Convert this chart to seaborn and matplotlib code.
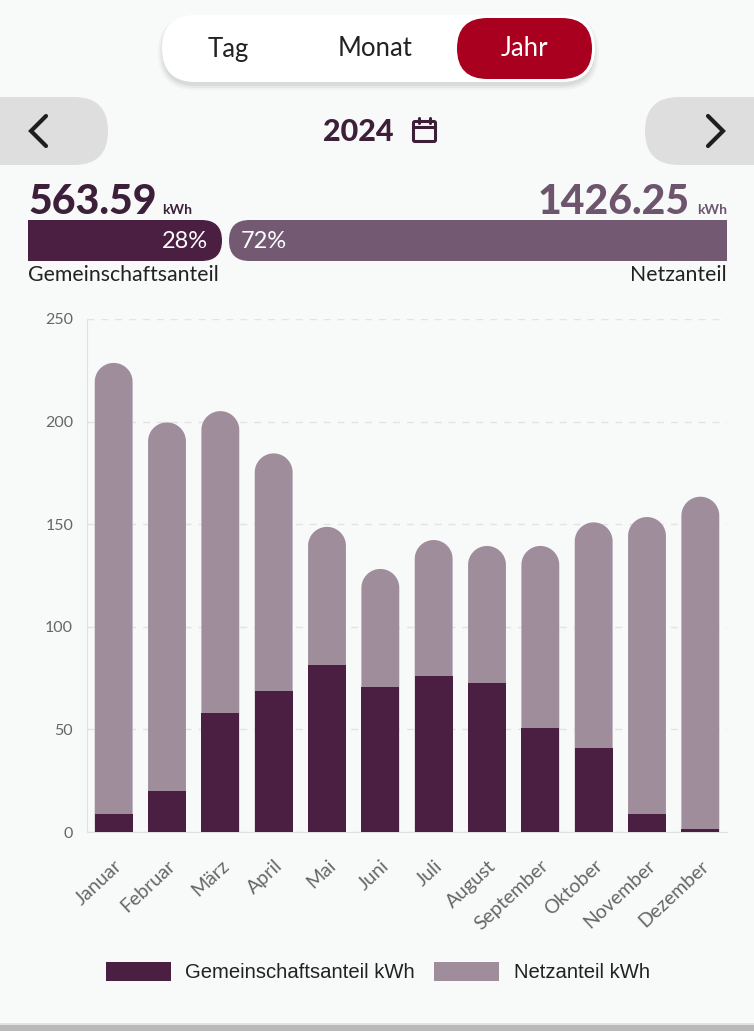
import numpy as np
import pandas as pd
import matplotlib
matplotlib.use("Agg")
import matplotlib.pyplot as plt
import seaborn as sns
from matplotlib.patches import FancyBboxPatch, PathPatch, Patch, Rectangle
from matplotlib.path import Path

# Daten (kWh pro Monat)
months = ["Januar", "Februar", "März", "April", "Mai", "Juni", "Juli",
          "August", "September", "Oktober", "November", "Dezember"]
gemeinschaft = [8.7, 20.2, 58.1, 68.5, 81.2, 70.9, 76.2, 72.6, 50.9, 41.0, 9.0, 1.4]
netz = [219.9, 179.4, 147.0, 116.0, 67.5, 57.3, 66.1, 66.8, 88.5, 109.9, 144.5, 162.0]
total_gem = "563.59"
total_netz = "1426.25"
share_gem = "28%"
share_netz = "72%"
y_ticks = [0, 50, 100, 150, 200, 250]
views = ["Tag", "Monat", "Jahr"]
year = "2024"

C_DARK = "#4a1f42"
C_LIGHT = "#a08d9c"
C_SHARE = "#735a72"
C_RED = "#a8001e"
C_BG = "#f8f9f9"

W, H = 754, 1031
sns.set_style("white")
plt.rcParams['font.family'] = ['Lato', 'DejaVu Sans']

fig = plt.figure(figsize=(W / 100, H / 100), dpi=100, facecolor=C_BG)

# Hintergrund / UI-Ebene in Pixelkoordinaten
bg = fig.add_axes([0, 0, 1, 1], zorder=0)
bg.set_xlim(0, W)
bg.set_ylim(H, 0)
bg.axis("off")

def pill(ax, x0, y0, x1, y1, color, r=None, **kw):
    r = (y1 - y0) / 2 if r is None else r
    p = FancyBboxPatch((x0 + r, y0 + r), (x1 - x0) - 2 * r, (y1 - y0) - 2 * r,
                       boxstyle=f"round,pad={r}", fc=color, ec="none", **kw)
    ax.add_patch(p)
    return p

# Umschalter Tag / Monat / Jahr
for i, a in enumerate([0.05, 0.04, 0.03]):
    pill(bg, 162 - i * 2, 15 - i + 3, 595 + i * 2, 83 + i * 2 + 3, "#000000", alpha=a)
pill(bg, 162, 15, 595, 82, "white")
pill(bg, 457, 18, 592, 79, C_RED)
for label, xc in zip(views, [228, 375, 524]):
    bg.text(xc, 49, label, ha="center", va="center", fontsize=18.5,
            color="white" if label == "Jahr" else "#222222")

# Navigation
pill(bg, -60, 97, 108, 165, "#dedede")
pill(bg, 645, 97, 820, 165, "#dedede")
bg.plot([46, 31, 46], [116, 131, 146], color="#1e1e1e", lw=3, solid_capstyle="round",
        solid_joinstyle="miter")
bg.plot([708, 723, 708], [116, 131, 146], color="#1e1e1e", lw=3, solid_capstyle="round",
        solid_joinstyle="miter")
bg.text(358, 132, year, ha="center", va="center", fontsize=22, fontweight="black",
        color="#3d1f3a")
bg.add_patch(FancyBboxPatch((415, 123), 19, 17, boxstyle="round,pad=1.5",
                            fc="none", ec="#3d1f3a", lw=2.2))
bg.plot([414, 435], [127, 127], color="#3d1f3a", lw=2.2)
bg.plot([419, 419], [118, 123], color="#3d1f3a", lw=2.2)
bg.plot([430, 430], [118, 123], color="#3d1f3a", lw=2.2)

# Summen und Anteilsbalken
bg.text(28, 214, total_gem, ha="left", va="baseline", fontsize=29.5, fontweight="black",
        color="#3d1f3a")
bg.text(162, 214, "kWh", ha="left", va="baseline", fontsize=10, fontweight="bold",
        color="#3d1f3a")
bg.text(690, 214, total_netz, ha="right", va="baseline", fontsize=29.5, fontweight="black",
        color="#6d566d")
bg.text(727, 214, "kWh", ha="right", va="baseline", fontsize=10, fontweight="bold",
        color="#6d566d")

bg.add_patch(Rectangle((28, 220), 160, 41, fc=C_DARK, ec="none"))
pill(bg, 150, 220, 222, 261, C_DARK)
bg.add_patch(Rectangle((260, 220), 467, 41, fc=C_SHARE, ec="none"))
pill(bg, 229, 220, 300, 261, C_SHARE)
bg.text(208, 242, share_gem, ha="right", va="center", fontsize=17, color="white")
bg.text(241, 242, share_netz, ha="left", va="center", fontsize=17, color="white")
bg.text(28, 275, "Gemeinschaftsanteil", ha="left", va="center", fontsize=15.3,
        color="#222222")
bg.text(727, 275, "Netzanteil", ha="right", va="center", fontsize=15.3, color="#222222")

# Kartenrand unten
bg.add_patch(Rectangle((0, 1025), W, 6, fc="#b9b9b9", ec="none"))
bg.add_patch(Rectangle((0, 1023), W, 2, fc="#e2e2e2", ec="none"))

# Diagramm
ax = fig.add_axes([87 / W, 1 - 832 / H, 640 / W, 513 / H], zorder=1)
ax.set_facecolor("none")

df = pd.DataFrame({"Monat": months, "Gemeinschaft": gemeinschaft, "Netz": netz})
df["Gesamt"] = df["Gemeinschaft"] + df["Netz"]

sns.barplot(data=df, x="Monat", y="Gesamt", color=C_LIGHT, width=0.71,
            saturation=1, linewidth=0, ax=ax, zorder=2)
sns.barplot(data=df, x="Monat", y="Gemeinschaft", color=C_DARK, width=0.71,
            saturation=1, linewidth=0, ax=ax, zorder=3)

ax.set_xlim(-0.5, len(months) - 0.5)
ax.set_ylim(0, 250)

# obere Balken mit runden Kappen
px_per_x = 640 / len(months)
px_per_y = 513 / 250
for rect in list(ax.containers[0]):
    x0, w, h = rect.get_x(), rect.get_width(), rect.get_height()
    rx = w / 2
    ry = rx * px_per_x / px_per_y
    t = np.linspace(0, np.pi, 40)
    xs = list(x0 + rx + rx * np.cos(t))
    ys = list(h - ry + ry * np.sin(t))
    verts = [(x0, 0), (x0 + w, 0)] + list(zip(xs, ys)) + [(x0, 0)]
    codes = [Path.MOVETO] + [Path.LINETO] * (len(verts) - 2) + [Path.CLOSEPOLY]
    ax.add_patch(PathPatch(Path(verts, codes), fc=rect.get_facecolor(), ec="none",
                           lw=0, zorder=2))
    rect.remove()

ax.set_yticks(y_ticks)
ax.grid(axis="y", color="#e3e3e3", linestyle=(0, (5, 5)), lw=1, zorder=0)
ax.grid(axis="x", visible=False)
for s in ["top", "right"]:
    ax.spines[s].set_visible(False)
ax.spines["left"].set_color("#e0e0e0")
ax.spines["bottom"].set_color("#e0e0e0")
ax.tick_params(axis="y", length=6, color="#e0e0e0", labelsize=11.5, labelcolor="#666666",
               pad=4)
ax.tick_params(axis="x", length=0, labelsize=14, labelcolor="#666666", pad=18)
plt.setp(ax.get_xticklabels(), rotation=43, ha="right", rotation_mode="anchor")
ax.set_xlabel("")
ax.set_ylabel("")

handles = [Patch(fc=C_DARK, ec="none", label="Gemeinschaftsanteil kWh"),
           Patch(fc=C_LIGHT, ec="none", label="Netzanteil kWh")]
fig.legend(handles=handles, loc="center", bbox_to_anchor=(378 / W, 1 - 972 / H),
           ncol=2, frameon=False, prop={"family": "Liberation Sans", "size": 14.6},
           handlelength=3.2, handleheight=1.05, columnspacing=0.95, handletextpad=0.7,
           labelcolor="#222222")

fig.savefig("out.png", dpi=100, facecolor=C_BG)
